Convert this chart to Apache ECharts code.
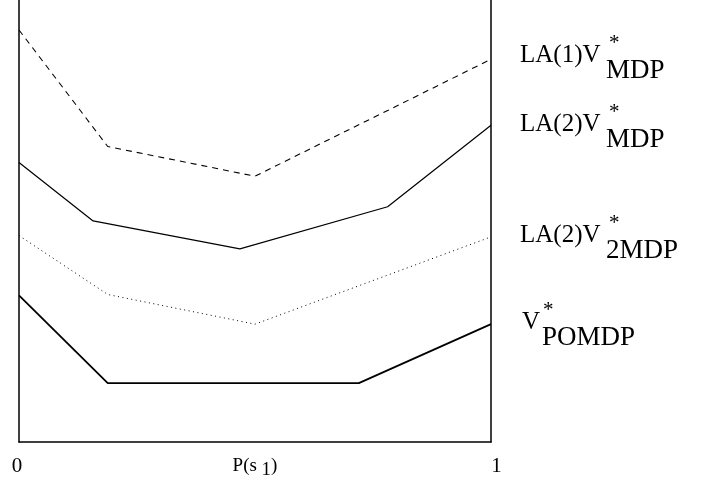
<!DOCTYPE html>
<html>
<head>
<meta charset="utf-8">
<script src="https://cdn.jsdelivr.net/npm/echarts@6/dist/echarts.min.js"></script>
<style>
  html, body { margin: 0; padding: 0; background: #fff; }
  #chart { width: 704px; height: 483px; }
</style>
</head>
<body>
<div id="chart"></div>
<script>
  // x positions of the break points, P(s1) from 0 to 1
  var xLA1 = [0, 0.188, 0.5, 1]
  var yLA1 = [93.0, 66.7, 60.0, 86.4]
  var xLA2 = [0, 0.157, 0.468, 0.781, 1]
  var yLA2 = [63.1, 49.9, 43.6, 53.1, 71.5]
  var xLA2b = [0, 0.188, 0.5, 1]
  var yLA2b = [46.6, 33.3, 26.6, 46.3]
  var xPOMDP = [0, 0.188, 0.72, 1]
  var yPOMDP = [33.1, 13.3, 13.3, 26.6]
  var xTicks = ['0', '1']

  function pairs (xs, ys) {
    var out = []
    for (var i = 0; i < xs.length; i++) out.push([xs[i], ys[i]])
    return out
  }

  var font = '"Liberation Serif", "DejaVu Serif", serif'
  var chart = echarts.init(document.getElementById('chart'))

  // right side label: main text, superscript star, subscript
  function label (x, y, main, sub, starDx, subDx) {
    return [
      { type: 'text', left: x, top: y, style: { text: main, font: '25px ' + font, fill: '#000' } },
      { type: 'text', left: x + starDx, top: y - 10, style: { text: '*', font: '21px ' + font, fill: '#000' } },
      { type: 'text', left: x + subDx, top: y + 14, style: { text: sub, font: '27px ' + font, fill: '#000' } },
    ]
  }

  var graphics = []
    .concat(label(520, 43, 'LA(1)V', 'MDP', 89, 86))
    .concat(label(520, 112, 'LA(2)V', 'MDP', 89, 86))
    .concat(label(520, 223, 'LA(2)V', '2MDP', 89, 86))
    .concat(label(522, 310, 'V', 'POMDP', 21, 20))

  var option = {
    animation: false,
    grid: { left: 19, right: 213, top: -1, bottom: 41, outerBoundsMode: 'none' },
    xAxis: {
      type: 'value', min: 0, max: 1, interval: 1,
      axisLine: { lineStyle: { color: '#000', width: 1.5 } },
      axisTick: { show: false },
      splitLine: { show: false },
      axisLabel: {
        formatter: function (v) { return v === 0 ? '{l|' + xTicks[v] + '}' : '{r|' + xTicks[v] + '}' },
        color: '#000', margin: 14,
        rich: {
          l: { fontFamily: font, fontSize: 21, color: '#000', padding: [0, 4, 0, 0] },
          r: { fontFamily: font, fontSize: 21, color: '#000', padding: [0, 0, 0, 11] },
        },
      },
      name: '{a|P(s }{b|1}{a|)}',
      nameLocation: 'middle',
      nameGap: 11,
      nameMoveOverlap: false,
      nameTextStyle: {
        rich: {
          a: { fontFamily: font, fontSize: 19, color: '#000' },
          b: { fontFamily: font, fontSize: 19, color: '#000', padding: [8, 0, 0, 0] },
        },
      },
    },
    yAxis: [
      {
        type: 'value', min: 0, max: 100,
        axisLine: { show: true, lineStyle: { color: '#000', width: 1.5 } },
        axisTick: { show: false }, axisLabel: { show: false }, splitLine: { show: false },
      },
      {
        type: 'value', min: 0, max: 100, position: 'right',
        axisLine: { show: true, lineStyle: { color: '#000', width: 1.5 } },
        axisTick: { show: false }, axisLabel: { show: false }, splitLine: { show: false },
      },
    ],
    series: [
      { type: 'line', data: pairs(xLA1, yLA1), symbol: 'none',
        lineStyle: { color: '#000', width: 1.1, type: [6, 5] } },
      { type: 'line', data: pairs(xLA2, yLA2), symbol: 'none',
        lineStyle: { color: '#000', width: 1.2 } },
      { type: 'line', data: pairs(xLA2b, yLA2b), symbol: 'none',
        lineStyle: { color: '#000', width: 1, type: [1, 3.5] } },
      { type: 'line', data: pairs(xPOMDP, yPOMDP), symbol: 'none',
        lineStyle: { color: '#000', width: 1.8 } },
    ],
    graphic: graphics,
  }
  chart.setOption(option)
</script>
</body>
</html>
